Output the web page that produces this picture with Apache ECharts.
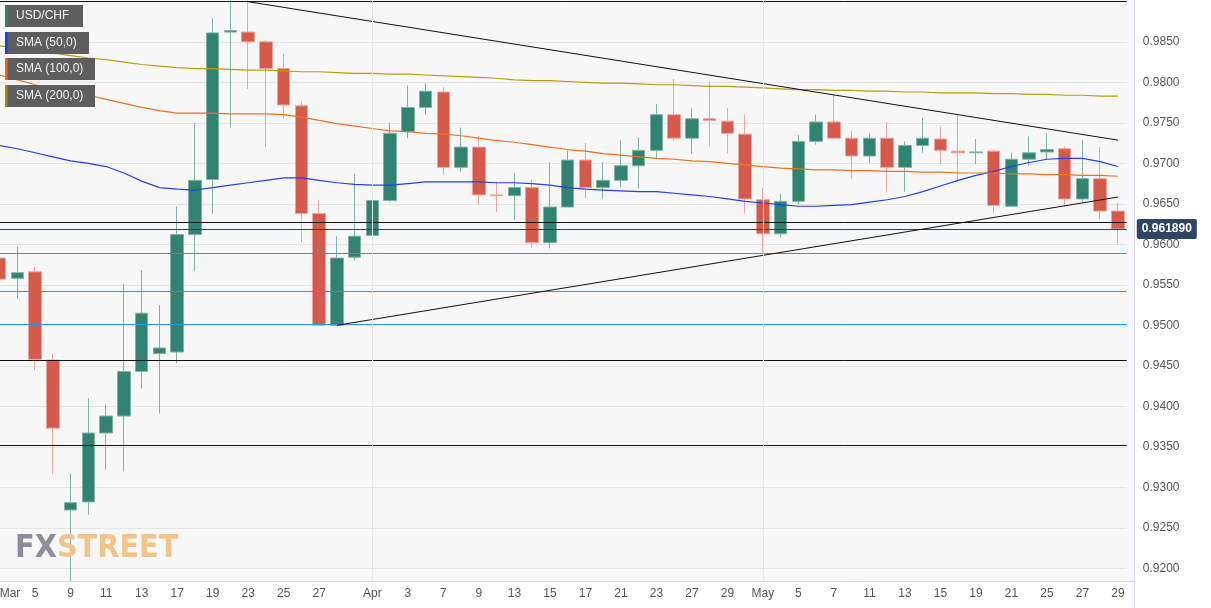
<!DOCTYPE html>
<html>
<head>
<meta charset="utf-8">
<script src="https://cdn.jsdelivr.net/npm/echarts@6/dist/echarts.min.js"></script>
<style>html,body{margin:0;padding:0;background:#fff}#main{width:1211px;height:608px}</style>
</head>
<body>
<div id="main"></div>
<script>
// trading days Mar 3 .. May 29
var days = ['Mar','4','5','6','9','10','11','12','13','16','17','18','19','20','23','24','25','26','27','30','31',
    'Apr','2','3','6','7','8','9','10','13','14','15','16','17','20','21','22','23','24','27','28','29','30',
    'May','4','5','6','7','8','11','12','13','14','15','18','19','20','21','22','25','26','27','28','29'];
var labelIdx = [0,2,4,6,8,10,12,14,16,18,21,23,25,27,29,31,33,35,37,39,41,43,45,47,49,51,53,55,57,59,61,63];

// [open, close, low, high]
var ohlc = [
    [0.9583,0.9557,0.9515,0.9599],[0.9558,0.9565,0.9533,0.9597],[0.9566,0.9458,0.9445,0.9572],[0.9457,0.9373,0.9317,0.9465],
    [0.9272,0.9281,0.9180,0.9317],[0.9282,0.9367,0.9266,0.9410],[0.9367,0.9388,0.9322,0.9402],[0.9388,0.9443,0.9320,0.9551],
    [0.9443,0.9515,0.9422,0.9568],[0.9465,0.9472,0.9391,0.9525],[0.9467,0.9612,0.9453,0.9647],[0.9612,0.9679,0.9567,0.9750],
    [0.9680,0.9861,0.9638,0.9879],[0.9862,0.9864,0.9744,0.9902],[0.9862,0.9850,0.9792,0.9902],[0.9850,0.9817,0.9720,0.9852],
    [0.9817,0.9772,0.9755,0.9835],[0.9771,0.9638,0.9603,0.9776],[0.9638,0.9500,0.9500,0.9655],[0.9500,0.9583,0.9500,0.9610],
    [0.9584,0.9610,0.9580,0.9687],[0.9611,0.9654,0.9601,0.9691],[0.9654,0.9737,0.9652,0.9750],[0.9739,0.9769,0.9731,0.9796],
    [0.9769,0.9789,0.9760,0.9799],[0.9788,0.9695,0.9686,0.9794],[0.9695,0.9720,0.9689,0.9744],[0.9720,0.9661,0.9649,0.9734],
    [0.9661,0.9660,0.9640,0.9677],[0.9660,0.9670,0.9630,0.9688],[0.9670,0.9602,0.9596,0.9680],[0.9602,0.9646,0.9595,0.9701],
    [0.9646,0.9704,0.9646,0.9716],[0.9704,0.9670,0.9657,0.9725],[0.9670,0.9679,0.9656,0.9701],[0.9679,0.9697,0.9670,0.9729],
    [0.9697,0.9716,0.9669,0.9732],[0.9716,0.9760,0.9705,0.9773],[0.9760,0.9731,0.9728,0.9804],[0.9731,0.9755,0.9712,0.9768],
    [0.9755,0.9753,0.9721,0.9801],[0.9752,0.9737,0.9712,0.9768],[0.9736,0.9656,0.9638,0.9760],[0.9655,0.9613,0.9589,0.9669],
    [0.9613,0.9653,0.9609,0.9663],[0.9653,0.9727,0.9650,0.9735],[0.9727,0.9751,0.9723,0.9760],[0.9751,0.9731,0.9730,0.9785],
    [0.9731,0.9709,0.9681,0.9740],[0.9709,0.9731,0.9700,0.9737],[0.9731,0.9695,0.9665,0.9751],[0.9695,0.9722,0.9665,0.9727],
    [0.9722,0.9731,0.9713,0.9756],[0.9730,0.9716,0.9699,0.9745],[0.9715,0.9713,0.9677,0.9760],[0.9713,0.9714,0.9699,0.9730],
    [0.9715,0.9648,0.9638,0.9717],[0.9647,0.9705,0.9646,0.9713],[0.9705,0.9713,0.9697,0.9733],[0.9714,0.9717,0.9705,0.9737],
    [0.9718,0.9656,0.9646,0.9721],[0.9656,0.9681,0.9653,0.9729],[0.9681,0.9641,0.9631,0.9720],[0.9641,0.96189,0.9601,0.9651]
];

var sma50 = [.9722,.9718,.9713,.9708,.9703,.9700,.9696,.9688,.9678,.9670,.9668,.9667,.9670,.9673,.9676,.9679,.9682,.9682,.9679,.9676,
    .9674,.9673,.9673,.9675,.9677,.9677,.9677,.9677,.9676,.9676,.9675,.9673,.9670,.9668,.9667,.9666,.9665,.9665,.9663,.9661,
    .9659,.9656,.9653,.9651,.9649,.9647,.9647,.9648,.9649,.9652,.9655,.9659,.9665,.9672,.9679,.9685,.9690,.9696,.9701,.9705,
    .9706,.9706,.9702,.9696];
var sma100 = [.9809,.9803,.9797,.9792,.9788,.9784,.9779,.9774,.9769,.9765,.9762,.9762,.9762,.9761,.9761,.9761,.9760,.9757,.9753,.9749,
    .9746,.9743,.9740,.9739,.9737,.9736,.9734,.9731,.9728,.9726,.9723,.9720,.9717,.9715,.9712,.9710,.9708,.9706,.9705,.9703,
    .9702,.9700,.9698,.9696,.9694,.9693,.9692,.9692,.9691,.9691,.9690,.9690,.9689,.9689,.9688,.9688,.9688,.9687,.9687,.9686,
    .9686,.9685,.9685,.9684];
var sma200 = [.9845,.9842,.9839,.9836,.9833,.9830,.9828,.9825,.9822,.9820,.9818,.9817,.9817,.9816,.9815,.9815,.9814,.9813,.9813,.9812,
    .9811,.9811,.9810,.9810,.9809,.9808,.9807,.9806,.9805,.9803,.9802,.9802,.9801,.9800,.9799,.9799,.9798,.9797,.9797,.9796,
    .9795,.9795,.9794,.9793,.9792,.9791,.9791,.9790,.9790,.9789,.9789,.9788,.9788,.9787,.9787,.9787,.9786,.9786,.9785,.9785,
    .9784,.9784,.9783,.9783];

var blackLevels = [0.98995, 0.96275, 0.94572, 0.93522];
var blueLevels = [0.95893, 0.95424, 0.95016];
var lastPrice = 0.96189;
var upperTrend = [[14, 0.98995], [63, 0.97286]];
var lowerTrend = [[19, 0.9500], [63, 0.96583]];

var green = '#318270', red = '#d65a4b';
var solid = function (c) { return {color: c, width: 1, type: 'solid'}; };
var hl = [];
blackLevels.forEach(function (v) { hl.push({yAxis: v, lineStyle: solid('#111')}); });
blueLevels.forEach(function (v) { hl.push({yAxis: v, lineStyle: solid('#2f93e6')}); });
hl.push({yAxis: lastPrice, lineStyle: solid('#2d4060'),
    label: {show: true, position: 'end', distance: 10, formatter: lastPrice.toFixed(6), color: '#fff', fontWeight: 'bold',
        fontSize: 12, backgroundColor: '#2f4463', padding: [4, 5], borderRadius: 2}});
hl.push([{coord: upperTrend[0], lineStyle: solid('#111')}, {coord: upperTrend[1]}]);
hl.push([{coord: lowerTrend[0], lineStyle: solid('#111')}, {coord: lowerTrend[1]}]);
hl.push({xAxis: 21, lineStyle: solid('#e8e8e8')});
hl.push({xAxis: 43, lineStyle: solid('#e8e8e8')});

function legendBox(y, w, text, c) {
    return [
        {type: 'rect', left: 5, top: y, shape: {width: w, height: 22}, style: {fill: '#5e5e5e'}, z: 50},
        {type: 'rect', left: 5, top: y, shape: {width: 2.5, height: 22}, style: {fill: c}, z: 51},
        {type: 'text', left: 16, top: y + 5, style: {text: text, fill: '#f2f2f2', font: '12px "Liberation Sans", Arial'}, z: 51}
    ];
}

var chart = echarts.init(document.getElementById('main'));
var option = {
    animation: false,
    grid: {left: -9.2, width: 1136, top: 1.3, bottom: -0.8, outerBoundsMode: 'none', containLabel: false},
    xAxis: {
        type: 'category', data: days, boundaryGap: true, z: 200,
        axisLine: {show: false}, axisTick: {show: false}, splitLine: {show: false},
        axisLabel: {inside: true, margin: 9, color: '#555', fontSize: 12, fontFamily: 'Liberation Sans', alignMinLabel: 'left',
            interval: function (i) { return labelIdx.indexOf(i) >= 0; }}
    },
    yAxis: {
        type: 'value', position: 'right', min: 0.915, max: 0.990, interval: 0.005, scale: true,
        axisLine: {show: false}, axisTick: {show: false},
        splitLine: {lineStyle: {color: '#e4e4e4'}},
        axisLabel: {margin: 16, color: '#555', fontSize: 12, fontFamily: 'Liberation Sans',
            formatter: function (v) { return (v > 0.9895 || v < 0.9175) ? '' : v.toFixed(4); }}
    },
    graphic: [
        {type: 'rect', left: 0, top: 0, shape: {width: 1134, height: 581}, style: {fill: '#f7f7f7'}, z: -100},
        {type: 'rect', left: 0, top: 581, shape: {width: 1211, height: 27}, style: {fill: '#fff'}, z: 100},
        {type: 'rect', left: 1134, top: 0, shape: {width: 77, height: 608}, style: {fill: '#fff'}, z: -90},
        {type: 'line', shape: {x1: 1134.5, y1: 0, x2: 1134.5, y2: 608}, style: {stroke: '#d5dbe5', lineWidth: 1}, z: 101},
        {type: 'line', shape: {x1: 0, y1: 581.5, x2: 1134, y2: 581.5}, style: {stroke: '#d5dbe5', lineWidth: 1}, z: 101},
        {type: 'text', left: 15, top: 533, z: 60, style: {
            rich: {a: {fill: '#8b8c9c', font: 'bold 32px "DejaVu Sans Condensed", "Liberation Sans Narrow"'},
                   b: {fill: '#f2c48a', font: 'bold 32px "DejaVu Sans Condensed", "Liberation Sans Narrow"'}},
            text: '{a|FX}{b|STREET}'}}
    ].concat(legendBox(5, 78, 'USD/CHF', '#318270'), legendBox(32, 84, 'SMA (50,0)', '#1a3cf0'),
        legendBox(58, 90, 'SMA (100,0)', '#f06a10'), legendBox(85, 90, 'SMA (200,0)', '#a09000')),
    series: [
        {type: 'candlestick', data: ohlc, barWidth: 13,
            itemStyle: {color: green, color0: red, borderColor: '#7fb3a6', borderColor0: '#eaa59c', borderWidth: 1},
            markLine: {symbol: 'none', silent: true, precision: 6, label: {show: false}, data: hl}},
        {type: 'line', data: sma50, symbol: 'none', lineStyle: {color: '#2040f0', width: 1.2}, z: 3},
        {type: 'line', data: sma100, symbol: 'none', lineStyle: {color: '#f07020', width: 1.2}, z: 3},
        {type: 'line', data: sma200, symbol: 'none', lineStyle: {color: '#b0a010', width: 1.2}, z: 3}
    ]
};
chart.setOption(option);
</script>
</body>
</html>
